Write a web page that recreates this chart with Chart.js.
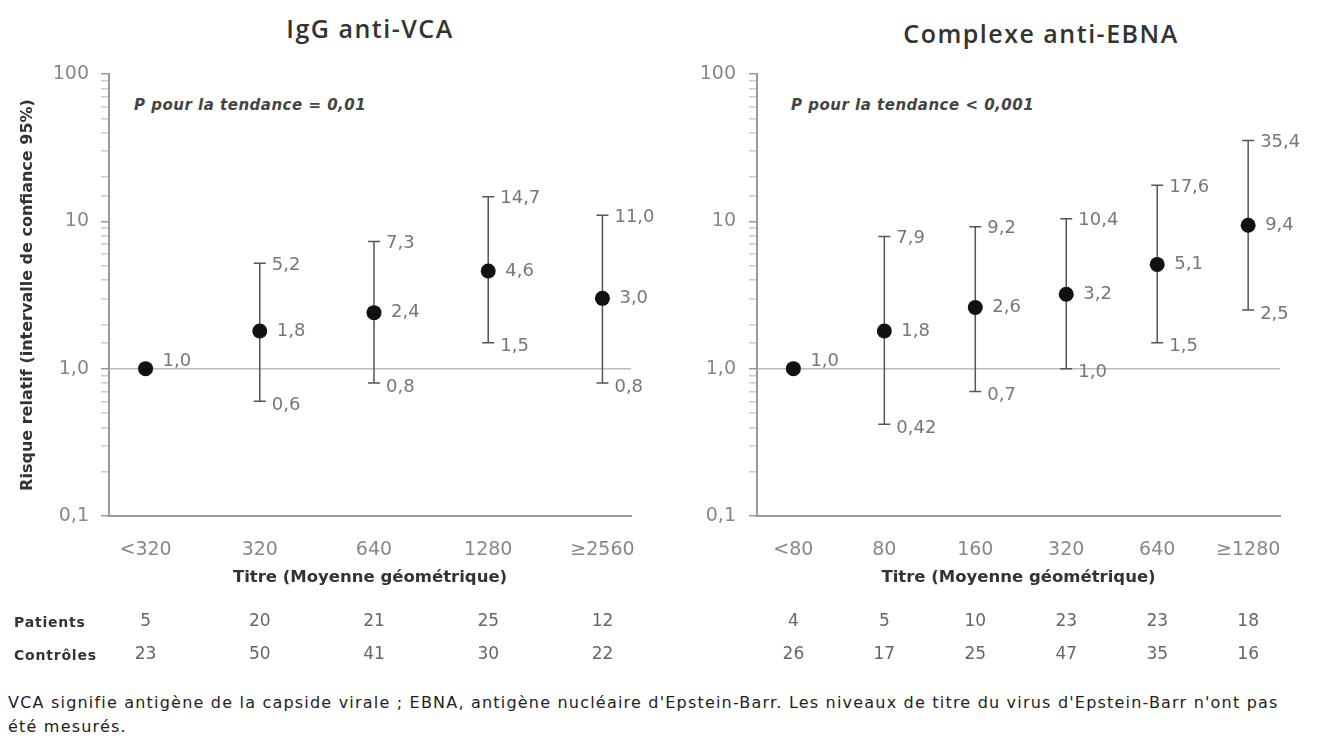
<!DOCTYPE html>
<html lang="fr">
<head>
<meta charset="utf-8">
<script src="https://cdn.jsdelivr.net/npm/chart.js@4.4.1/dist/chart.umd.min.js"></script>
<style>
  html, body { margin: 0; padding: 0; background: #fff; }
  body { width: 1324px; height: 742px; position: relative; overflow: hidden; font-family: "DejaVu Sans", sans-serif; }
  canvas { position: absolute; top: 0; }
  #vca { left: 0; }
  #ebna { left: 660px; }
  .title { position: absolute; font-family: "Open Sans", sans-serif; font-weight: 600; font-size: 25px; line-height: 30px; letter-spacing: 1.5px; color: #333; transform: translateX(-50%); white-space: nowrap; }
  .ptext { position: absolute; top: 95px; font-style: italic; font-weight: bold; font-size: 15px; line-height: 20px; letter-spacing: 0.5px; color: #444; white-space: nowrap; }
  .rowlab { position: absolute; left: 14px; font-weight: bold; font-size: 14px; line-height: 20px; letter-spacing: 0.8px; color: #333; }
  .caption { position: absolute; left: 8px; top: 691px; font-size: 16px; line-height: 24px; letter-spacing: 1.2px; color: #222; white-space: nowrap; }
</style>
</head>
<body>
<div class="title" style="left:370px; top:13px;">IgG anti-VCA</div>
<div class="title" style="left:1041px; top:18px;">Complexe anti-EBNA</div>
<div class="ptext" style="left:134px;">P pour la tendance = 0,01</div>
<div class="ptext" style="left:791px;">P pour la tendance &lt; 0,001</div>
<canvas id="vca" width="655" height="690"></canvas>
<canvas id="ebna" width="664" height="690"></canvas>
<div class="rowlab" style="top:612px;">Patients</div>
<div class="rowlab" style="top:645px;">Contrôles</div>
<div class="caption">VCA signifie antigène de la capside virale ; EBNA, antigène nucléaire d'Epstein-Barr. Les niveaux de titre du virus d'Epstein-Barr n'ont pas<br>été mesurés.</div>
<script>
// IgG anti-VCA
const vcaCats = ["<320", "320", "640", "1280", "≥2560"];
const vcaRR = [1.0, 1.8, 2.4, 4.6, 3.0];
const vcaLow = [null, 0.6, 0.8, 1.5, 0.8];
const vcaHigh = [null, 5.2, 7.3, 14.7, 11.0];
const vcaPatients = [5, 20, 21, 25, 12];
const vcaControls = [23, 50, 41, 30, 22];

// Complexe anti-EBNA
const ebnaCats = ["<80", "80", "160", "320", "640", "≥1280"];
const ebnaRR = [1.0, 1.8, 2.6, 3.2, 5.1, 9.4];
const ebnaLow = [null, 0.42, 0.7, 1.0, 1.5, 2.5];
const ebnaHigh = [null, 7.9, 9.2, 10.4, 17.6, 35.4];
const ebnaPatients = [4, 5, 10, 23, 23, 18];
const ebnaControls = [26, 17, 25, 47, 35, 16];

const yTicks = [0.1, 1, 10, 100];
const yTickLabels = ["0,1", "1,0", "10", "100"];

const numFont = "DejaVu Sans";

function fmt(v) {
  const oneDec = Math.abs(Math.round(v * 10) - v * 10) < 1e-9;
  return v.toFixed(oneDec ? 1 : 2).replace(".", ",");
}

function yTickIndex(v) {
  return yTicks.findIndex(t => Math.abs(Math.log10(t) - Math.log10(v)) < 1e-6);
}

function barsPlugin(rr, low, high, patients, controls) {
  return {
    id: "bars",
    beforeDatasetsDraw(chart) {
      const { ctx, scales: { x, y } } = chart;
      ctx.save();
      ctx.strokeStyle = "#555";
      ctx.lineWidth = 1.5;
      low.forEach((lo, i) => {
        if (lo == null) return;
        const px = x.getPixelForValue(i);
        const y1 = y.getPixelForValue(lo), y2 = y.getPixelForValue(high[i]);
        ctx.beginPath();
        ctx.moveTo(px, y1); ctx.lineTo(px, y2);
        ctx.moveTo(px - 6, y1); ctx.lineTo(px + 6, y1);
        ctx.moveTo(px - 6, y2); ctx.lineTo(px + 6, y2);
        ctx.stroke();
      });
      ctx.restore();
    },
    afterDatasetsDraw(chart) {
      const { ctx, scales: { x, y } } = chart;
      ctx.save();
      ctx.fillStyle = "#777";
      ctx.font = "18px '" + numFont + "'";
      ctx.textAlign = "left";
      ctx.textBaseline = "middle";
      rr.forEach((v, i) => {
        const px = x.getPixelForValue(i);
        const lift = v === 1 ? 7 : 0;
        ctx.fillText(fmt(v), px + 17, y.getPixelForValue(v) - lift);
        if (low[i] != null) {
          ctx.fillText(fmt(high[i]), px + 12, y.getPixelForValue(high[i]) + 2);
          ctx.fillText(fmt(low[i]), px + 12, y.getPixelForValue(low[i]) + 4);
        }
      });
      ctx.restore();
    },
    afterDraw(chart) {
      const { ctx, scales: { x } } = chart;
      ctx.save();
      ctx.fillStyle = "#666";
      ctx.font = "17px '" + numFont + "'";
      ctx.textAlign = "center";
      ctx.textBaseline = "middle";
      patients.forEach((n, i) => ctx.fillText(String(n), x.getPixelForValue(i), 622));
      controls.forEach((n, i) => ctx.fillText(String(n), x.getPixelForValue(i), 655));
      ctx.restore();
    }
  };
}

function makeChart(id, cats, rr, low, high, patients, controls, cfg) {
  return new Chart(document.getElementById(id), {
    type: "scatter",
    data: {
      datasets: [{
        data: rr.map((v, i) => ({ x: i, y: v })),
        backgroundColor: "#111",
        borderWidth: 0,
        pointRadius: 7.5
      }]
    },
    options: {
      responsive: false,
      animation: false,
      layout: { padding: { top: 74, right: cfg.padRight, bottom: 94, left: 0 } },
      plugins: { legend: { display: false }, tooltip: { enabled: false } },
      scales: {
        x: {
          type: "linear",
          min: cfg.xmin,
          max: cfg.xmax,
          afterFit: s => { s.height = 80; },
          afterBuildTicks: s => { s.ticks = cats.map((_, i) => ({ value: i })); },
          grid: { display: false },
          border: { color: "#999", width: 2 },
          ticks: {
            autoSkip: false, maxRotation: 0, padding: 15, color: "#888",
            font: { family: numFont, size: 19 },
            callback: v => cats[v] ?? ""
          },
          title: {
            display: true, text: "Titre (Moyenne géométrique)", color: "#333",
            font: { family: "DejaVu Sans", size: 16.5, weight: "bold" },
            padding: { top: 0, bottom: 8 }
          }
        },
        y: {
          type: "logarithmic",
          min: 0.1,
          max: 100,
          afterFit: s => { s.width = cfg.yWidth; },
          border: { color: "#999", width: 2 },
          grid: {
            tickLength: 8,
            lineWidth: 1.5,
            color: c => (c.tick && yTickIndex(c.tick.value) === 1) ? "#bbb" : "rgba(0,0,0,0)",
            tickColor: c => (c.tick && yTickIndex(c.tick.value) >= 0) ? "#999" : "#ccc"
          },
          ticks: {
            autoSkip: false, padding: cfg.tickPad, color: "#888",
            font: { family: numFont, size: 19 },
            callback: v => { const k = yTickIndex(v); return k < 0 ? "" : yTickLabels[k]; }
          },
          title: {
            display: cfg.yTitle !== "",
            text: cfg.yTitle, color: "#333",
            font: { family: "DejaVu Sans", size: 16, weight: "bold" },
            padding: { top: 18, bottom: 0 }
          }
        }
      }
    },
    plugins: [barsPlugin(rr, low, high, patients, controls)]
  });
}

makeChart("vca", vcaCats, vcaRR, vcaLow, vcaHigh, vcaPatients, vcaControls,
  { xmin: -0.32, xmax: 4.25, yWidth: 109, padRight: 24, tickPad: 12,
    yTitle: "Risque relatif (intervalle de confiance 95%)" });

makeChart("ebna", ebnaCats, ebnaRR, ebnaLow, ebnaHigh, ebnaPatients, ebnaControls,
  { xmin: -0.4, xmax: 5.35, yWidth: 97, padRight: 44, tickPad: 13, yTitle: "" });
</script>
</body>
</html>
